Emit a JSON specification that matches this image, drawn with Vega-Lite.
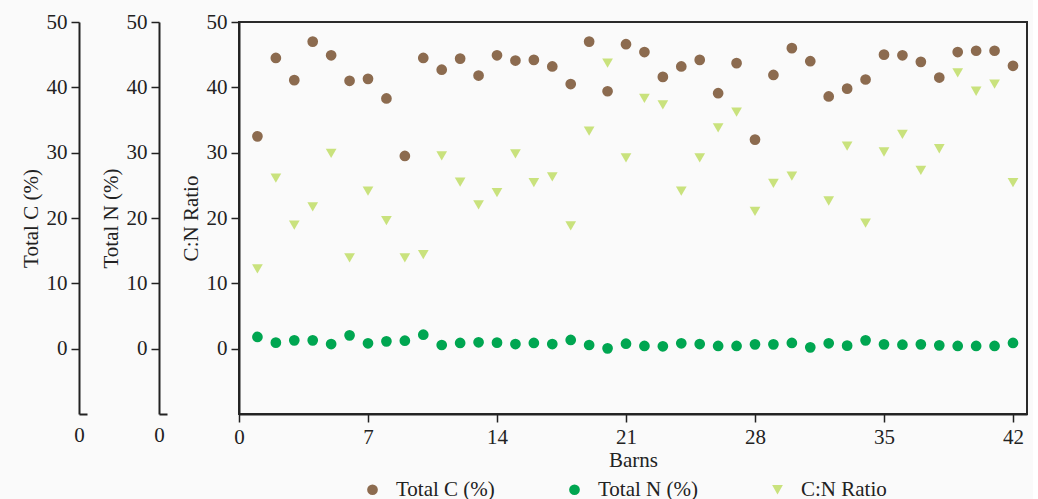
{
  "$schema": "https://vega.github.io/schema/vega-lite/v6.json",
  "background": "#fafafa",
  "padding": {"left": 20, "top": 10, "right": 5, "bottom": 0},
  "spacing": 72,
  "bounds": "flush",
  "data": {"values": [
    {"b":1,"s":"Total C (%)","v":32.5},{"b":2,"s":"Total C (%)","v":44.5},{"b":3,"s":"Total C (%)","v":41.1},{"b":4,"s":"Total C (%)","v":47.0},{"b":5,"s":"Total C (%)","v":44.9},{"b":6,"s":"Total C (%)","v":41.0},{"b":7,"s":"Total C (%)","v":41.3},{"b":8,"s":"Total C (%)","v":38.3},{"b":9,"s":"Total C (%)","v":29.5},{"b":10,"s":"Total C (%)","v":44.5},{"b":11,"s":"Total C (%)","v":42.7},{"b":12,"s":"Total C (%)","v":44.4},{"b":13,"s":"Total C (%)","v":41.8},{"b":14,"s":"Total C (%)","v":44.9},{"b":15,"s":"Total C (%)","v":44.1},{"b":16,"s":"Total C (%)","v":44.2},{"b":17,"s":"Total C (%)","v":43.2},{"b":18,"s":"Total C (%)","v":40.5},{"b":19,"s":"Total C (%)","v":47.0},{"b":20,"s":"Total C (%)","v":39.4},{"b":21,"s":"Total C (%)","v":46.6},{"b":22,"s":"Total C (%)","v":45.4},{"b":23,"s":"Total C (%)","v":41.6},{"b":24,"s":"Total C (%)","v":43.2},{"b":25,"s":"Total C (%)","v":44.2},{"b":26,"s":"Total C (%)","v":39.1},{"b":27,"s":"Total C (%)","v":43.7},{"b":28,"s":"Total C (%)","v":32.0},{"b":29,"s":"Total C (%)","v":41.9},{"b":30,"s":"Total C (%)","v":46.0},{"b":31,"s":"Total C (%)","v":44.0},{"b":32,"s":"Total C (%)","v":38.6},{"b":33,"s":"Total C (%)","v":39.8},{"b":34,"s":"Total C (%)","v":41.2},{"b":35,"s":"Total C (%)","v":45.0},{"b":36,"s":"Total C (%)","v":44.9},{"b":37,"s":"Total C (%)","v":43.9},{"b":38,"s":"Total C (%)","v":41.5},{"b":39,"s":"Total C (%)","v":45.4},{"b":40,"s":"Total C (%)","v":45.6},{"b":41,"s":"Total C (%)","v":45.6},{"b":42,"s":"Total C (%)","v":43.3},
    {"b":1,"s":"Total N (%)","v":1.79},{"b":2,"s":"Total N (%)","v":0.92},{"b":3,"s":"Total N (%)","v":1.27},{"b":4,"s":"Total N (%)","v":1.27},{"b":5,"s":"Total N (%)","v":0.71},{"b":6,"s":"Total N (%)","v":2.04},{"b":7,"s":"Total N (%)","v":0.82},{"b":8,"s":"Total N (%)","v":1.12},{"b":9,"s":"Total N (%)","v":1.22},{"b":10,"s":"Total N (%)","v":2.14},{"b":11,"s":"Total N (%)","v":0.56},{"b":12,"s":"Total N (%)","v":0.87},{"b":13,"s":"Total N (%)","v":0.97},{"b":14,"s":"Total N (%)","v":0.92},{"b":15,"s":"Total N (%)","v":0.71},{"b":16,"s":"Total N (%)","v":0.87},{"b":17,"s":"Total N (%)","v":0.71},{"b":18,"s":"Total N (%)","v":1.33},{"b":19,"s":"Total N (%)","v":0.56},{"b":20,"s":"Total N (%)","v":0.05},{"b":21,"s":"Total N (%)","v":0.76},{"b":22,"s":"Total N (%)","v":0.41},{"b":23,"s":"Total N (%)","v":0.36},{"b":24,"s":"Total N (%)","v":0.82},{"b":25,"s":"Total N (%)","v":0.71},{"b":26,"s":"Total N (%)","v":0.41},{"b":27,"s":"Total N (%)","v":0.41},{"b":28,"s":"Total N (%)","v":0.66},{"b":29,"s":"Total N (%)","v":0.66},{"b":30,"s":"Total N (%)","v":0.87},{"b":31,"s":"Total N (%)","v":0.2},{"b":32,"s":"Total N (%)","v":0.82},{"b":33,"s":"Total N (%)","v":0.46},{"b":34,"s":"Total N (%)","v":1.27},{"b":35,"s":"Total N (%)","v":0.66},{"b":36,"s":"Total N (%)","v":0.61},{"b":37,"s":"Total N (%)","v":0.66},{"b":38,"s":"Total N (%)","v":0.51},{"b":39,"s":"Total N (%)","v":0.41},{"b":40,"s":"Total N (%)","v":0.41},{"b":41,"s":"Total N (%)","v":0.41},{"b":42,"s":"Total N (%)","v":0.87},
    {"b":1,"s":"C:N Ratio","v":12.2},{"b":2,"s":"C:N Ratio","v":26.1},{"b":3,"s":"C:N Ratio","v":18.9},{"b":4,"s":"C:N Ratio","v":21.7},{"b":5,"s":"C:N Ratio","v":29.9},{"b":6,"s":"C:N Ratio","v":13.9},{"b":7,"s":"C:N Ratio","v":24.1},{"b":8,"s":"C:N Ratio","v":19.6},{"b":9,"s":"C:N Ratio","v":13.9},{"b":10,"s":"C:N Ratio","v":14.4},{"b":11,"s":"C:N Ratio","v":29.5},{"b":12,"s":"C:N Ratio","v":25.5},{"b":13,"s":"C:N Ratio","v":22.0},{"b":14,"s":"C:N Ratio","v":23.9},{"b":15,"s":"C:N Ratio","v":29.8},{"b":16,"s":"C:N Ratio","v":25.4},{"b":17,"s":"C:N Ratio","v":26.3},{"b":18,"s":"C:N Ratio","v":18.8},{"b":19,"s":"C:N Ratio","v":33.3},{"b":20,"s":"C:N Ratio","v":43.7},{"b":21,"s":"C:N Ratio","v":29.2},{"b":22,"s":"C:N Ratio","v":38.3},{"b":23,"s":"C:N Ratio","v":37.3},{"b":24,"s":"C:N Ratio","v":24.1},{"b":25,"s":"C:N Ratio","v":29.2},{"b":26,"s":"C:N Ratio","v":33.8},{"b":27,"s":"C:N Ratio","v":36.2},{"b":28,"s":"C:N Ratio","v":21.0},{"b":29,"s":"C:N Ratio","v":25.3},{"b":30,"s":"C:N Ratio","v":26.4},{"b":32,"s":"C:N Ratio","v":22.6},{"b":33,"s":"C:N Ratio","v":31.0},{"b":34,"s":"C:N Ratio","v":19.2},{"b":35,"s":"C:N Ratio","v":30.1},{"b":36,"s":"C:N Ratio","v":32.8},{"b":37,"s":"C:N Ratio","v":27.3},{"b":38,"s":"C:N Ratio","v":30.6},{"b":39,"s":"C:N Ratio","v":42.2},{"b":40,"s":"C:N Ratio","v":39.4},{"b":41,"s":"C:N Ratio","v":40.5},{"b":42,"s":"C:N Ratio","v":25.4}
  ]},
  "hconcat": [
    {
      "width": 8, "height": 392,
      "view": {"stroke": null, "fill": null},
      "transform": [{"filter": "datum.s === 'Total C (%)'"}],
      "mark": {"type": "point", "opacity": 0},
      "encoding": {
        "x": {"datum": 0, "type": "quantitative", "scale": {"domain": [0, 1], "nice": false, "zero": false}, "axis": {"values": [0], "title": null, "ticks": false, "labelPadding": 10}},
        "y": {"field": "v", "type": "quantitative", "scale": {"domain": [-10, 50], "nice": false, "zero": false}, "axis": {"values": [0, 10, 20, 30, 40, 50], "title": "Total C (%)"}}
      }
    },
    {
      "width": 8, "height": 392,
      "view": {"stroke": null, "fill": null},
      "transform": [{"filter": "datum.s === 'Total N (%)'"}],
      "mark": {"type": "point", "opacity": 0},
      "encoding": {
        "x": {"datum": 0, "type": "quantitative", "scale": {"domain": [0, 1], "nice": false, "zero": false}, "axis": {"values": [0], "title": null, "ticks": false, "labelPadding": 10}},
        "y": {"field": "v", "type": "quantitative", "scale": {"domain": [-10, 50], "nice": false, "zero": false}, "axis": {"values": [0, 10, 20, 30, 40, 50], "title": "Total N (%)"}}
      }
    },
    {
      "width": 788, "height": 392,
      "view": {"stroke": "#2a2a2a", "strokeWidth": 2, "fill": null},
      "mark": {"type": "point", "filled": true, "opacity": 1},
      "encoding": {
        "x": {"field": "b", "type": "quantitative", "scale": {"domain": [0, 42.76], "nice": false, "zero": false}, "axis": {"values": [0, 7, 14, 21, 28, 35, 42], "title": "Barns", "titlePadding": 2}},
        "y": {"field": "v", "type": "quantitative", "scale": {"domain": [-10, 50], "nice": false, "zero": false}, "axis": {"values": [0, 10, 20, 30, 40, 50], "title": "C:N Ratio"}},
        "color": {"field": "s", "type": "nominal", "title": null,
          "scale": {"domain": ["Total C (%)", "Total N (%)", "C:N Ratio"], "range": ["#8c6b4f", "#00a651", "#c9e27d"]},
          "legend": {"orient": "none", "direction": "horizontal", "legendX": 283, "legendY": 457, "columns": 3}},
        "shape": {"field": "s", "type": "nominal", "title": null,
          "scale": {"domain": ["Total C (%)", "Total N (%)", "C:N Ratio"], "range": ["circle", "circle", "triangle-down"]},
          "legend": {"orient": "none", "direction": "horizontal", "legendX": 283, "legendY": 457, "columns": 3}},
        "size": {"field": "s", "type": "nominal", "legend": null,
          "scale": {"domain": ["Total C (%)", "Total N (%)", "C:N Ratio"], "range": [115, 115, 170]}}
      }
    }
  ],
  "resolve": {"scale": {"x": "independent", "y": "independent"}, "axis": {"x": "independent", "y": "independent"}},
  "config": {
    "font": "Liberation Serif",
    "axis": {
      "labelFont": "Liberation Serif", "titleFont": "Liberation Serif",
      "labelFontSize": 21, "titleFontSize": 21, "titleFontWeight": "normal",
      "labelColor": "#222", "titleColor": "#222", "labelFlush": false,
      "domainColor": "#222", "tickColor": "#222", "domainWidth": 2, "tickWidth": 1.5, "tickSize": 8,
      "grid": false, "labelPadding": 4, "titlePadding": 5
    },
    "legend": {
      "labelFont": "Liberation Serif", "labelFontSize": 21, "labelColor": "#222",
      "symbolSize": 90, "labelOffset": 13, "columnPadding": 69, "padding": 0, "symbolStrokeWidth": 0
    }
  }
}
